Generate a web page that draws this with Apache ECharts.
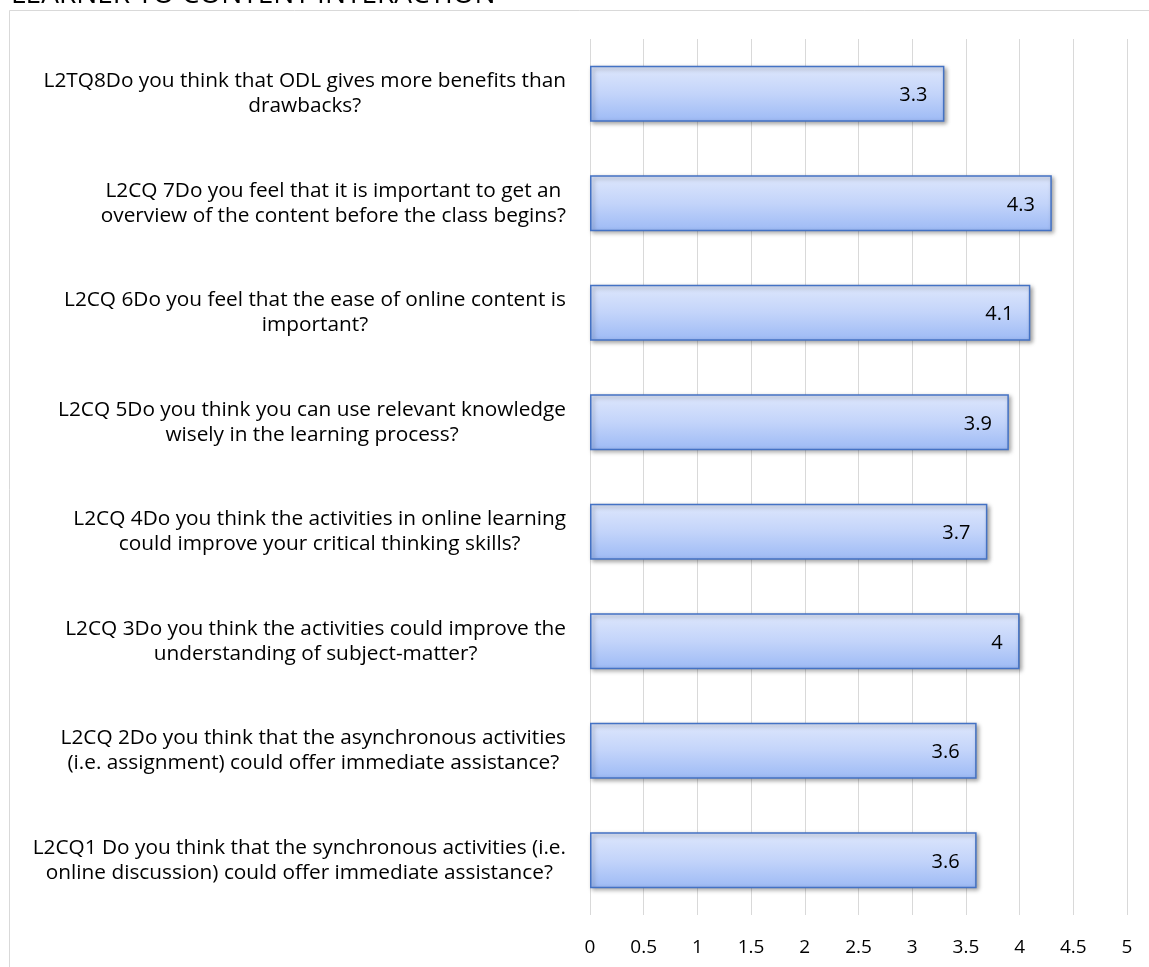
<!DOCTYPE html>
<html>
<head>
<meta charset="utf-8">
<script src="https://cdn.jsdelivr.net/npm/echarts@6/dist/echarts.min.js"></script>
<style>
html,body{margin:0;padding:0;background:#fff;}
#chart{width:1149px;height:967px;}
</style>
</head>
<body>
<div id="chart"></div>
<script>
var chartTitle = 'LEARNER TO CONTENT INTERACTION';
var categories = [
  'L2TQ8Do you think that ODL gives more benefits than\ndrawbacks?',
  'L2CQ 7Do you feel that it is important to get an\noverview of the content before the class begins?',
  'L2CQ 6Do you feel that the ease of online content is\nimportant?',
  'L2CQ 5Do you think you can use relevant knowledge\nwisely in the learning process?',
  'L2CQ 4Do you think the activities in online learning\ncould improve your critical thinking skills?',
  'L2CQ 3Do you think the activities could improve the\nunderstanding of subject-matter?',
  'L2CQ 2Do you think that the asynchronous activities\n(i.e. assignment) could offer immediate assistance?',
  'L2CQ1 Do you think that the synchronous activities (i.e.\nonline discussion) could offer immediate assistance?'
];
var values = [3.3, 4.3, 4.1, 3.9, 3.7, 4, 3.6, 3.6];
var xTicks = ['0','0.5','1','1.5','2','2.5','3','3.5','4','4.5','5'];

var FONT = '"Open Sans", Lato, "Liberation Sans", sans-serif';
var chart = echarts.init(document.getElementById('chart'));
chart.setOption({
  animation: false,
  backgroundColor: '#fff',
  title: {
    text: chartTitle,
    left: 6,
    top: -24,
    textStyle: {fontFamily: FONT, fontSize: 28, fontWeight: 'normal', color: '#000'}
  },
  graphic: [{
    type: 'rect',
    shape: {x: 9.5, y: 10.5, width: 1200, height: 1000},
    style: {fill: 'none', stroke: '#d9d9d9', lineWidth: 1},
    silent: true
  }],
  grid: {left: 590, right: 22, top: 39, bottom: 52, containLabel: false},
  xAxis: {
    type: 'value',
    min: 0, max: 5, interval: 0.5,
    axisLine: {show: false},
    axisTick: {show: false},
    splitLine: {show: true, lineStyle: {color: '#d9d9d9', width: 1}},
    axisLabel: {
      margin: 23,
      fontFamily: FONT, fontSize: 19, color: '#000',
      formatter: function (v) { var i = Math.round(v * 2); return xTicks[i] !== undefined ? xTicks[i] : v; }
    }
  },
  yAxis: {
    type: 'category',
    inverse: true,
    data: categories,
    axisLine: {show: false},
    axisTick: {show: false},
    axisLabel: {
      margin: 24,
      align: 'right',
      formatter: function (v) {
        return v.split('\n').map(function (s) { return '{c|' + s + '}'; }).join('\n');
      },
      rich: {
        c: {align: 'center', fontFamily: FONT, fontSize: 20.8, lineHeight: 25, color: '#000'}
      }
    }
  },
  series: [{
    type: 'bar',
    data: values,
    barWidth: '51%',
    itemStyle: {
      color: new echarts.graphic.LinearGradient(0, 0, 0, 1, [
        {offset: 0, color: '#dee7fc'},
        {offset: 0.5, color: '#c3d4fa'},
        {offset: 1, color: '#9dbaf5'}
      ]),
      borderColor: '#4472c4',
      borderWidth: 1.5,
      shadowColor: 'rgba(0,0,0,0.35)',
      shadowBlur: 4,
      shadowOffsetX: 2,
      shadowOffsetY: 2
    },
    label: {
      show: true,
      position: 'insideRight',
      distance: 17,
      offset: [0, 2],
      fontFamily: FONT, fontSize: 20, color: '#000'
    }
  }]
});
</script>
</body>
</html>
